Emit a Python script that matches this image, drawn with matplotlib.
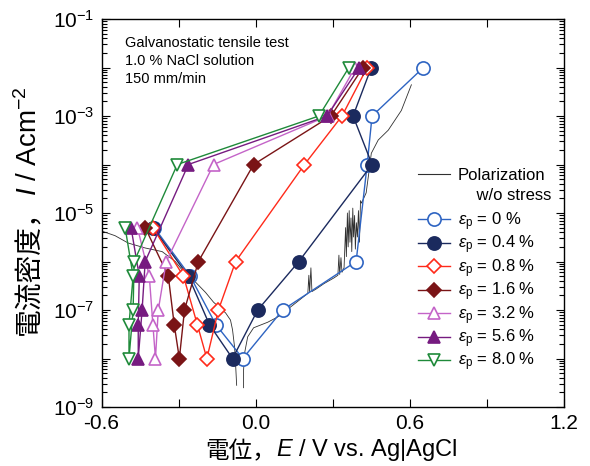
import matplotlib
matplotlib.use("Agg")
import numpy as np
import matplotlib.pyplot as plt
from matplotlib.lines import Line2D
from matplotlib.ticker import MultipleLocator, FuncFormatter, LogLocator, NullFormatter

plt.rcParams['font.family'] = ['Liberation Sans', 'Noto Sans CJK JP']
plt.rcParams['mathtext.fontset'] = 'custom'
plt.rcParams['mathtext.rm'] = 'Liberation Sans'
plt.rcParams['mathtext.it'] = 'Liberation Sans:italic'
plt.rcParams['axes.unicode_minus'] = False

# current steps: cathodic 5e-6 -> 1e-8, then anodic 1e-7 -> 1e-2 (A/cm2)
current = [5e-6, 5e-7, 5e-8, 1e-8, 1e-7, 1e-6, 1e-4, 1e-3, 1e-2]

# potentials (V vs Ag|AgCl) for each plastic strain
strain = ['0', '0.4', '0.8', '1.6', '3.2', '5.6', '8.0']
e_00 = [-0.395, -0.255, -0.155, -0.05, 0.105, 0.391, 0.434, 0.453, 0.653]
e_04 = [-0.40, -0.262, -0.18, -0.09, 0.008, 0.168, 0.453, 0.379, 0.45]
e_08 = [-0.40, -0.281, -0.227, -0.19, -0.145, -0.078, 0.19, 0.336, 0.434]
e_16 = [-0.43, -0.34, -0.317, -0.297, -0.277, -0.223, -0.008, 0.293, 0.418]
e_32 = [-0.46, -0.414, -0.40, -0.39, -0.379, -0.348, -0.164, 0.28, 0.387]
e_56 = [-0.485, -0.453, -0.457, -0.457, -0.442, -0.43, -0.262, 0.278, 0.403]
e_80 = [-0.508, -0.477, -0.493, -0.493, -0.477, -0.473, -0.305, 0.246, 0.363]
potentials = [e_00, e_04, e_08, e_16, e_32, e_56, e_80]

# polarization curve without stress
pol_cat_e = [-0.62, -0.602, -0.547, -0.496, -0.43, -0.364, -0.313, -0.285, -0.235,
             -0.195, -0.164, -0.117, -0.098, -0.09, -0.082, -0.078, -0.074]
pol_cat_i = [4.6e-6, 4.3e-6, 3.4e-6, 2.4e-6, 1.9e-6, 1.6e-6, 1.0e-6, 6.6e-7, 3.8e-7,
             2.3e-7, 1.45e-7, 8.7e-8, 6.2e-8, 3.9e-8, 1.7e-8, 7.4e-9, 2.8e-9]
pol_an_e = [-0.047, -0.047, -0.043, -0.031, -0.008, 0.047, 0.086, 0.145, 0.203,
            0.207, 0.210, 0.215, 0.219, 0.235, 0.266, 0.305, 0.320, 0.324, 0.327,
            0.332, 0.336, 0.344, 0.350, 0.353, 0.357, 0.360, 0.364, 0.367, 0.371,
            0.374, 0.378, 0.381, 0.385, 0.388, 0.392, 0.396, 0.400, 0.404, 0.408,
            0.412, 0.43, 0.442, 0.45, 0.477, 0.516, 0.567, 0.606]
pol_an_i = [2.5e-9, 5.8e-9, 1.3e-8, 2.8e-8, 4.3e-8, 5.6e-8, 7.2e-8, 1.26e-7, 2.2e-7,
            5.2e-7, 2.3e-7, 7.4e-7, 2.4e-7, 2.7e-7, 3.5e-7, 4.6e-7, 5.2e-7, 1.35e-6, 5.4e-7,
            1.2e-6, 6.0e-7, 7.4e-7, 5.0e-6, 1.26e-6, 1.0e-5, 2.0e-6, 1.12e-5, 2.5e-6, 7.9e-6,
            1.6e-6, 1.26e-5, 3.2e-6, 8.9e-6, 1.8e-6, 6.3e-6, 3.2e-6, 1.12e-5, 2.5e-6, 1.8e-5,
            1.6e-5, 2.6e-5, 7.8e-5, 1.7e-4, 3.2e-4, 5.1e-4, 1.3e-3, 4.4e-3]

styles = [('o', '#2e64c2', 'white', 9.5),
          ('o', '#1b2a5e', '#1b2a5e', 9.5),
          ('D', '#ff2a1a', 'white', 6.8),
          ('D', '#7a1416', '#7a1416', 6.8),
          ('^', '#c464c8', 'white', 9),
          ('^', '#761b80', '#761b80', 9),
          ('v', '#1f8a3a', 'white', 9)]

fig = plt.figure(figsize=(5.9, 4.66), dpi=100)
ax = fig.add_axes([101.5 / 590, 1 - 407 / 466, 462.5 / 590, 388 / 466])

ax.plot(pol_cat_e, pol_cat_i, color='#303030', lw=0.6)
ax.plot(pol_an_e, pol_an_i, color='#303030', lw=0.6)

lines = []
for e, (m, c, fc, ms), s in zip(potentials, styles, strain):
    l, = ax.plot(e, current, marker=m, color=c, mfc=fc, mec=c, ms=ms, mew=1.2, lw=1.0,
                 label=r'$\varepsilon_\mathrm{p}$ = %s %%' % s)
    lines.append(l)

ax.set_yscale('log')
ax.set_xlim(-0.6, 1.2)
ax.set_ylim(1e-9, 1e-1)

ax.xaxis.set_major_locator(MultipleLocator(0.3))
ax.xaxis.set_major_formatter(FuncFormatter(
    lambda v, p: '%.1f' % v if abs(round(v / 0.6) * 0.6 - v) < 1e-6 else ''))
ax.yaxis.set_major_locator(LogLocator(base=10, numticks=20))
ax.yaxis.set_minor_locator(LogLocator(base=10, subs=np.arange(2, 10), numticks=20))
ax.yaxis.set_minor_formatter(NullFormatter())


def yfmt(v, p):
    n = int(round(np.log10(v)))
    if n % 2 == 0:
        return ''
    return r'$\mathregular{10^{%d}}$' % n


ax.yaxis.set_major_formatter(FuncFormatter(yfmt))
ax.tick_params(which='both', direction='in', top=True, right=True, width=0.8)
ax.tick_params(which='major', length=6, labelsize=15, pad=5)
ax.tick_params(which='minor', length=3.5)
for sp in ax.spines.values():
    sp.set_linewidth(1.0)

ax.text(0.05, 0.957, 'Galvanostatic tensile test\n1.0 % NaCl solution\n150 mm/min',
        transform=ax.transAxes, va='top', ha='left', fontsize=10.5, linespacing=1.38)

# legend: polarization curve, then the strained specimens
pol_h = Line2D([], [], color='#303030', lw=0.8)
blank = Line2D([], [], color='none')
leg1 = ax.legend([pol_h, blank], ['Polarization', '    w/o stress'],
                 loc='upper left', bbox_to_anchor=(0.684, 0.617), frameon=False, fontsize=12,
                 handlelength=1.9, handletextpad=0.5, labelspacing=0.3,
                 borderaxespad=0, borderpad=0)
ax.add_artist(leg1)
ax.legend(lines, [l.get_label() for l in lines],
          loc='upper left', bbox_to_anchor=(0.684, 0.507), frameon=False, fontsize=12,
          handlelength=1.9, handletextpad=0.5, labelspacing=0.05,
          borderaxespad=0, borderpad=0)

# x label: 電位，E / V vs. Ag|AgCl
t1 = fig.text(205 / 590, 1 - 458 / 466, '電位，', fontsize=17, va='baseline', ha='left')
ax.annotate(r'$\mathit{E}$ / V vs. Ag|AgCl', xy=(1, 0), xycoords=t1, fontsize=17,
            va='bottom', ha='left')

# y label: 電流密度，I / Acm-2
t2 = fig.text(30 / 590, 1 - 335 / 466, '電流密度，', fontsize=20, rotation=90,
              va='bottom', ha='center')
ax.annotate(r'$\mathit{I}$ / Acm$^{-2}$', xy=(1, 1), xycoords=t2, fontsize=20,
            rotation=90, va='bottom', ha='right')

fig.savefig('out.png', dpi=100)
